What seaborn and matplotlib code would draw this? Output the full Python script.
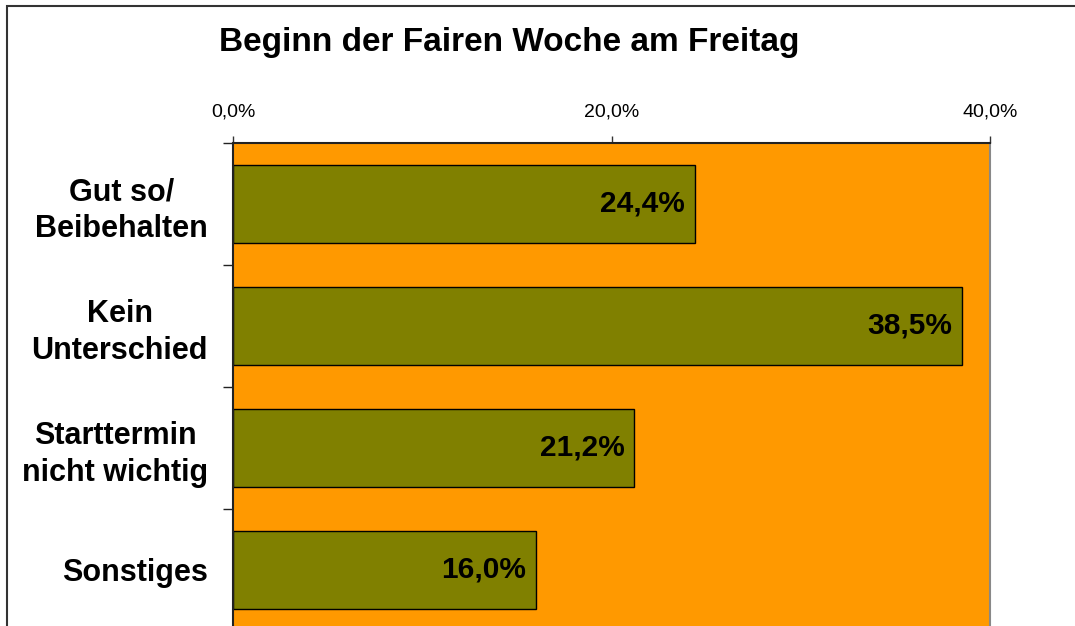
import matplotlib
matplotlib.use('Agg')
import pandas as pd
import seaborn as sns
import matplotlib.pyplot as plt
from matplotlib.patches import Rectangle

# Data
categories = ['Gut so/\nBeibehalten', 'Kein\nUnterschied', 'Starttermin\nnicht wichtig', 'Sonstiges']
values = [24.4, 38.5, 21.2, 16.0]
xticks = [0, 20, 40]
xtick_labels = ['0,0%', '20,0%', '40,0%']

df = pd.DataFrame({'Kategorie': categories, 'Anteil': values})

sns.set_style('white')
plt.rcParams['font.family'] = ['Liberation Sans', 'DejaVu Sans']
plt.rcParams['text.color'] = 'black'
plt.rcParams['xtick.labelcolor'] = 'black'
plt.rcParams['ytick.labelcolor'] = 'black'

W, H = 1075, 626
fig = plt.figure(figsize=(W / 100, H / 100), dpi=100)
# plot area: x 233..990 px, y 143..631 px
ax = fig.add_axes([233 / W, 1 - 631 / H, (990 - 233) / W, (631 - 143) / H])
ax.set_facecolor('#FF9900')

sns.barplot(data=df, y='Kategorie', x='Anteil', orient='h', color='#808000',
            saturation=1, width=0.64, edgecolor='black', linewidth=1, ax=ax)

ax.set_xlim(0, 40)
ax.set_ylim(3.5, -0.5)
ax.set_xlabel('')
ax.set_ylabel('')

# top x axis
ax.xaxis.tick_top()
ax.set_xticks(xticks)
ax.set_xticklabels(xtick_labels, fontsize=14, color='black')
ax.tick_params(axis='x', direction='out', length=5, width=1, pad=11, color='#333333', top=True, bottom=False)

# y ticks at category boundaries, labels at centres
ax.set_yticks([i for i in range(len(categories))])
ax.set_yticklabels(categories, fontsize=22, fontweight='bold', color='black')
for lbl in ax.get_yticklabels():
    lbl.set_multialignment('center')
    lbl.set_linespacing(1.3)
ax.tick_params(axis='y', length=0, pad=18)
ax.set_yticks([i - 0.5 for i in range(len(categories) + 1)], minor=True)
ax.tick_params(axis='y', which='minor', direction='out', length=7, width=1, color='#222222', left=True)

for side in ['top', 'left']:
    ax.spines[side].set_visible(True)
    ax.spines[side].set_color('#222222')
    ax.spines[side].set_linewidth(1.5)
ax.spines['right'].set_visible(True)
ax.spines['right'].set_color('#888888')
ax.spines['right'].set_linewidth(1.5)
ax.spines['bottom'].set_visible(False)

# value labels inside bars
for i, v in enumerate(values):
    ax.annotate(f'{v:.1f}%'.replace('.', ','), xy=(v, i), xytext=(-7, 0),
                textcoords='offset points', ha='right', va='center',
                fontsize=21.5, fontweight='bold', color='black')

fig.text(509 / W, 1 - 43 / H, 'Beginn der Fairen Woche am Freitag',
         ha='center', va='center', fontsize=24, fontweight='bold', color='black')

# outer frame (only top and left visible in the crop)
fig.patches.append(Rectangle((6.5 / W, -0.1), 1.2, 1 - 5.5 / H + 0.1,
                             transform=fig.transFigure, fill=False,
                             edgecolor='#333333', linewidth=1.5))

fig.savefig('out.png', dpi=100)
